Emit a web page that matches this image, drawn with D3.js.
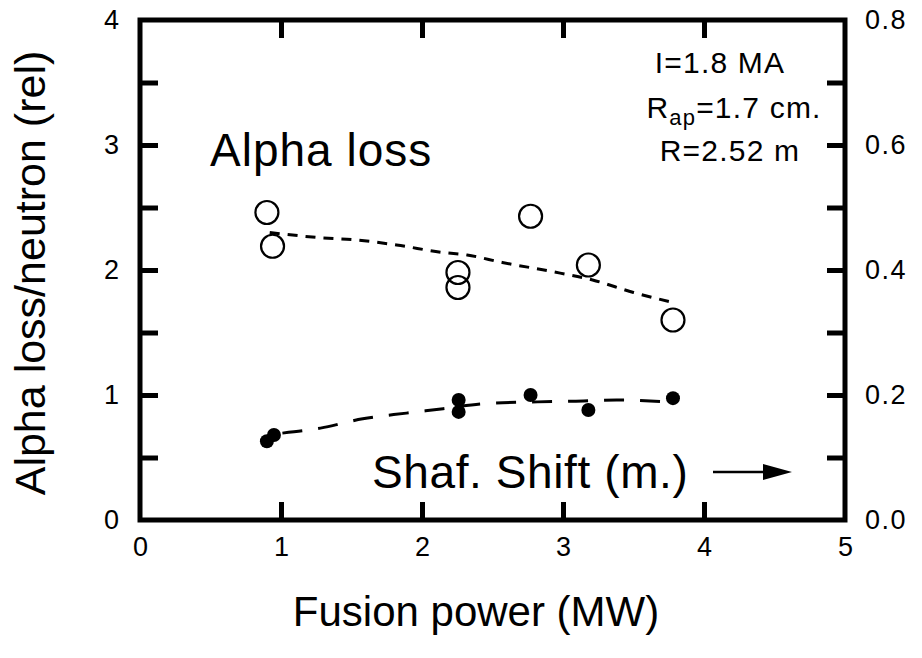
<!DOCTYPE html>
<html>
<head>
<meta charset="utf-8">
<script src="https://cdn.jsdelivr.net/npm/d3@7"></script>
<style>
  html, body { margin: 0; padding: 0; background: #fff; }
  svg { display: block; font-family: "Liberation Sans", Arial, Helvetica, sans-serif; }
</style>
</head>
<body>
<svg id="chart" width="922" height="658"></svg>
<script>
// ---- data ----
const alphaPower = [0.90, 0.94, 2.255, 2.255, 2.77, 3.18, 3.78];
const alphaLoss  = [2.46, 2.19, 1.98, 1.86, 2.43, 2.04, 1.60];

const shiftPower = [0.90, 0.95, 2.26, 2.26, 2.77, 3.18, 3.78];
const shafShift  = [0.126, 0.136, 0.192, 0.173, 0.200, 0.176, 0.195];

const alphaFitPower = [0.92, 1.26, 1.54, 1.82, 2.15, 2.32, 2.57, 2.91, 3.21, 3.50, 3.78];
const alphaFitLoss  = [2.30, 2.26, 2.24, 2.20, 2.14, 2.12, 2.06, 1.99, 1.92, 1.82, 1.74];

const shiftFitPower = [1.01, 1.28, 1.58, 1.89, 2.15, 2.43, 2.82, 3.07, 3.38, 3.74];
const shiftFitShift = [0.139, 0.147, 0.162, 0.171, 0.178, 0.186, 0.189, 0.190, 0.192, 0.189];

const xTicks = [0, 1, 2, 3, 4, 5];
const yLeftTicks = [0, 0.5, 1, 1.5, 2, 2.5, 3, 3.5, 4];
const yRightTicks = [0, 0.1, 0.2, 0.3, 0.4, 0.5, 0.6, 0.7, 0.8];

const xTitle = "Fusion power (MW)";
const yTitle = "Alpha loss/neutron (rel)";

// ---- layout ----
const L = 140, R = 845, T = 20, B = 520;
const svg = d3.select("#chart");

const x = d3.scaleLinear().domain([0, 5]).range([L, R]);
const yL = d3.scaleLinear().domain([0, 4]).range([B, T]);
const yR = d3.scaleLinear().domain([0, 0.8]).range([B, T]);

const TICK = 18, SW = 5, FS = 27;

function styleAxis(g) {
  g.select(".domain").remove();
  g.selectAll(".tick line").attr("stroke", "#000").attr("stroke-width", SW);
  g.selectAll(".tick text").attr("fill", "#000").attr("font-size", FS)
    .attr("font-family", "Liberation Sans, Arial, sans-serif");
}

// bottom axis
svg.append("g").attr("transform", `translate(0,${B})`)
  .call(d3.axisBottom(x).tickValues(xTicks).tickSize(-TICK).tickPadding(17).tickFormat(d3.format("d")))
  .call(styleAxis)
  .call(g => g.selectAll(".tick line").filter(d => d === 0 || d === 5).remove());

// top axis (ticks only)
svg.append("g").attr("transform", `translate(0,${T})`)
  .call(d3.axisTop(x).tickValues(xTicks.filter(d => d > 0 && d < 5)).tickSize(-TICK).tickFormat(""))
  .call(styleAxis);

// left axis
svg.append("g").attr("transform", `translate(${L},0)`)
  .call(d3.axisLeft(yL).tickValues(yLeftTicks).tickSize(-TICK).tickPadding(21)
    .tickFormat(d => Number.isInteger(d) ? d3.format("d")(d) : ""))
  .call(styleAxis)
  .call(g => g.selectAll(".tick line").filter(d => d === 0 || d === 4).remove());

// right axis
svg.append("g").attr("transform", `translate(${R},0)`)
  .call(d3.axisRight(yR).tickValues(yRightTicks).tickSize(-TICK).tickPadding(20)
    .tickFormat(d => (Math.round(d * 10) % 2 === 0) ? d3.format(".1f")(d) : ""))
  .call(styleAxis)
  .call(g => g.selectAll(".tick line").filter(d => d === 0 || Math.abs(d - 0.8) < 1e-9).remove())
  .call(g => g.selectAll(".tick text").attr("letter-spacing", 1.5));

// frame
svg.append("rect")
  .attr("x", L).attr("y", T).attr("width", R - L).attr("height", B - T)
  .attr("fill", "none").attr("stroke", "#000").attr("stroke-width", SW);

// fit lines
const lineL = d3.line().x(d => x(d[0])).y(d => yL(d[1])).curve(d3.curveMonotoneX);
const lineR = d3.line().x(d => x(d[0])).y(d => yR(d[1])).curve(d3.curveMonotoneX);

svg.append("path")
  .datum(alphaFitPower.map((p, i) => [p, alphaFitLoss[i]]))
  .attr("d", lineL).attr("fill", "none").attr("stroke", "#000")
  .attr("stroke-width", 3).attr("stroke-dasharray", "10,8");

svg.append("path")
  .datum(shiftFitPower.map((p, i) => [p, shiftFitShift[i]]))
  .attr("d", lineR).attr("fill", "none").attr("stroke", "#000")
  .attr("stroke-width", 3).attr("stroke-dasharray", "20,16");

// points
svg.append("g").selectAll("circle")
  .data(alphaPower.map((p, i) => [p, alphaLoss[i]]))
  .join("circle")
  .attr("cx", d => x(d[0])).attr("cy", d => yL(d[1])).attr("r", 11.5)
  .attr("fill", "none").attr("stroke", "#000").attr("stroke-width", 2.2);

svg.append("g").selectAll("circle")
  .data(shiftPower.map((p, i) => [p, shafShift[i]]))
  .join("circle")
  .attr("cx", d => x(d[0])).attr("cy", d => yR(d[1])).attr("r", 7)
  .attr("fill", "#000");

// axis titles
svg.append("text").attr("x", 476).attr("y", 626)
  .attr("text-anchor", "middle").attr("font-size", 42).text(xTitle);

svg.append("text")
  .attr("transform", `translate(45,${(T + B) / 2 + 3}) rotate(-90)`)
  .attr("text-anchor", "middle").attr("font-size", 43).text(yTitle);

// in-plot labels
svg.append("text").attr("x", 210).attr("y", 166).attr("font-size", 46)
  .attr("letter-spacing", 1).text("Alpha loss");
svg.append("text").attr("x", 372).attr("y", 488).attr("font-size", 46)
  .attr("letter-spacing", 0.6).text("Shaf. Shift (m.)");

// arrow
svg.append("line").attr("x1", 713).attr("y1", 472).attr("x2", 768).attr("y2", 472)
  .attr("stroke", "#000").attr("stroke-width", 2.5);
svg.append("path").attr("d", "M763,464 L792,472 L763,480 Z").attr("fill", "#000");

// parameters
const ann = svg.append("g").attr("font-size", 30).attr("text-anchor", "middle")
  .attr("letter-spacing", 1.2);
ann.append("text").attr("x", 720).attr("y", 73).text("I=1.8 MA");
const t2 = ann.append("text").attr("x", 734).attr("y", 118);
t2.append("tspan").text("R");
t2.append("tspan").attr("font-size", 22).attr("dy", 7).text("ap");
t2.append("tspan").attr("dy", -7).text("=1.7 cm.");
ann.append("text").attr("x", 730).attr("y", 161).text("R=2.52 m");
</script>
</body>
</html>
